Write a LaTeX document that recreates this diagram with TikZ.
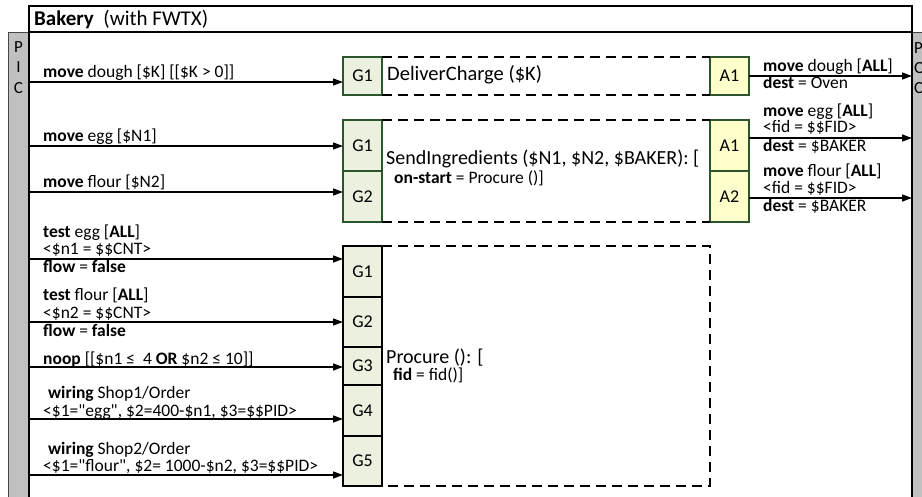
\documentclass[tikz,border=0pt]{standalone}
\usepackage{fontspec}
\setmainfont{Carlito}[Ligatures=TeXOff]
\usetikzlibrary{arrows.meta,positioning}

\definecolor{gatefill}{RGB}{235,241,222}
\definecolor{gateline}{RGB}{45,85,45}
\definecolor{actfill}{RGB}{255,255,204}
\definecolor{chgray}{RGB}{192,192,192}
\definecolor{chline}{RGB}{70,70,70}

\tikzset{
  gate/.style={draw=gateline, line width=1.3pt, fill=gatefill, minimum width=39pt,
    inner sep=0pt, outer sep=0pt, anchor=north west, font=\fontsize{18}{20}\selectfont},
  actbox/.style={gate, fill=actfill},
  taskline/.style={line width=1.5pt, dash pattern=on 10pt off 6pt},
  wire/.style={line width=1.3pt, -{Triangle[length=10pt,width=7pt]}},
  lbl/.style={anchor=base west, inner sep=0pt, font=\fontsize{17.5}{20}\selectfont},
  bigl/.style={lbl, font=\fontsize{20}{22}\selectfont},
  chan/.style={inner sep=0pt, font=\fontsize{17}{19}\selectfont},
}

\begin{document}
\begin{tikzpicture}[x=1pt, y=-1pt]
    \useasboundingbox (0,0) rectangle (922,497);
    \clip (0,0) rectangle (922,497);

    % Canali PIC / POC
    \draw[chline, fill=chgray] (8,32) rectangle (29,510);
    \draw[chline, fill=chgray] (912,32) rectangle (940,510);
    \node[chan] (picp) at (18.5,47) {P};
    \node[chan] (pici) at (18.5,67) {I};
    \node[chan] (picc) at (18.5,88) {C};
    \node[chan, anchor=west] (pocp) at (914,48) {P};
    \node[chan, anchor=west] (poco) at (914,68) {O};
    \node[chan, anchor=west] (pocc) at (914,88) {C};

    % Cornice
    \draw[line width=1.3pt, fill=white] (29,6) rectangle (912,510);
    \draw[line width=1.3pt] (29,32) -- (912,32);
    \node[lbl, font=\fontsize{21}{23}\selectfont] (title) at (34,26) {\textbf{Bakery}\ \ (with FWTX)};

    % DeliverCharge
    \node[gate, minimum height=38pt] (dg1) at (343,57) {G1};
    \node[actbox, minimum height=38pt] (da1) at (710,57) {A1};
    \draw[taskline] (dg1.north east) -- (da1.north west)
                    (dg1.south east) -- (da1.south west);
    \node[bigl, font=\fontsize{20.5}{23}\selectfont] (dname) at (387,81) {DeliverCharge (\$K)};

    % SendIngredients
    \node[gate, minimum height=51pt] (sg1) at (343,120) {G1};
    \node[gate, minimum height=51pt, below=0pt of sg1, anchor=north] (sg2) {G2};
    \node[actbox, minimum height=51pt] (sa1) at (710,120) {A1};
    \node[actbox, minimum height=51pt, below=0pt of sa1, anchor=north] (sa2) {A2};
    \draw[taskline] (sg1.north east) -- (sa1.north west)
                    (sg2.south east) -- (sa2.south west);
    \node[bigl] (sname) at (386,165) {SendIngredients (\$N1, \$N2, \$BAKER): [};
    \node[lbl] (sstart) at (394,184) {\textbf{on-start} = Procure ()]};

    % Procure
    \node[gate, draw=black, minimum height=51pt] (pg1) at (343,246) {G1};
    \node[gate, draw=black, minimum height=50pt, below=0pt of pg1, anchor=north] (pg2) {G2};
    \node[gate, draw=black, minimum height=38pt, below=0pt of pg2, anchor=north] (pg3) {G3};
    \node[gate, draw=black, minimum height=51pt, below=0pt of pg3, anchor=north] (pg4) {G4};
    \node[gate, draw=black, minimum height=50pt, below=0pt of pg4, anchor=north] (pg5) {G5};
    \coordinate (pne) at (710,246);
    \coordinate (pse) at (710,486);
    \draw[taskline] (pg1.north east) -- (pne) -- (pse) -- (pg5.south east);
    \node[bigl] (pname) at (386,363) {Procure (): [};
    \node[lbl] (pfid) at (393,381) {\textbf{fid} = fid()]};

    % Frecce in ingresso
    \coordinate (pin1) at (29,82);
    \coordinate (pin2) at (29,146);
    \coordinate (pin3) at (29,192);
    \coordinate (pin4) at (29,259);
    \coordinate (pin5) at (29,322);
    \coordinate (pin6) at (29,367);
    \coordinate (pin7) at (29,419);
    \coordinate (pin8) at (29,475);
    \draw[wire] (pin1) -- (pin1 -| dg1.west);
    \draw[wire] (pin2) -- (pin2 -| sg1.west);
    \draw[wire] (pin3) -- (pin3 -| sg2.west);
    \draw[wire] (pin4) -- (pin4 -| pg1.west);
    \draw[wire] (pin5) -- (pin5 -| pg2.west);
    \draw[wire] (pin6) -- (pin6 -| pg3.west);
    \draw[wire] (pin7) -- (pin7 -| pg4.west);
    \draw[wire] (pin8) -- (pin8 -| pg5.west);

    \node[lbl] (l1) at (43,78) {\textbf{move} dough [\$K] [[\$K > 0]]};
    \node[lbl] (l2) at (43,142) {\textbf{move} egg [\$N1]};
    \node[lbl] (l3) at (43,188) {\textbf{move} flour [\$N2]};
    \node[lbl] (l4a) at (43,238) {\textbf{test} egg [\textbf{ALL}]};
    \node[lbl] (l4b) at (43,255) {<\$n1 = \$\$CNT>};
    \node[lbl] (l4c) at (43,273) {\textbf{flow} = \textbf{false}};
    \node[lbl] (l5a) at (43,301) {\textbf{test} flour [\textbf{ALL}]};
    \node[lbl] (l5b) at (43,319) {<\$n2 = \$\$CNT>};
    \node[lbl] (l5c) at (43,337) {\textbf{flow} = \textbf{false}};
    \node[lbl] (l6) at (43,364) {\textbf{noop} [[\$n1 ≤\ \ 4 \textbf{OR} \$n2 ≤ 10]]};
    \node[lbl] (l7a) at (48,399) {\textbf{wiring} Shop1/Order};
    \node[lbl] (l7b) at (43,416) {<\$1="egg", \$2=400-\$n1, \$3=\$\$PID>};
    \node[lbl] (l8a) at (48,454) {\textbf{wiring} Shop2/Order};
    \node[lbl] (l8b) at (43,471) {<\$1="flour", \$2= 1000-\$n2, \$3=\$\$PID>};

    % Frecce in uscita
    \coordinate (pout1) at (912,76);
    \coordinate (pout2) at (912,138);
    \coordinate (pout3) at (912,198);
    \draw[wire] (pout1 -| da1.east) -- (pout1);
    \draw[wire] (pout2 -| sa1.east) -- (pout2);
    \draw[wire] (pout3 -| sa2.east) -- (pout3);

    \node[lbl] (r1a) at (763,72) {\textbf{move} dough [\textbf{ALL}]};
    \node[lbl] (r1b) at (763,89) {\textbf{dest} = Oven};
    \node[lbl] (r2a) at (763,117) {\textbf{move} egg [\textbf{ALL}]};
    \node[lbl] (r2b) at (763,133) {<fid = \$\$FID>};
    \node[lbl] (r2c) at (763,152) {\textbf{dest} = \$BAKER};
    \node[lbl] (r3a) at (763,177) {\textbf{move} flour [\textbf{ALL}]};
    \node[lbl] (r3b) at (763,194) {<fid = \$\$FID>};
    \node[lbl] (r3c) at (763,212) {\textbf{dest} = \$BAKER};
\end{tikzpicture}
\end{document}
